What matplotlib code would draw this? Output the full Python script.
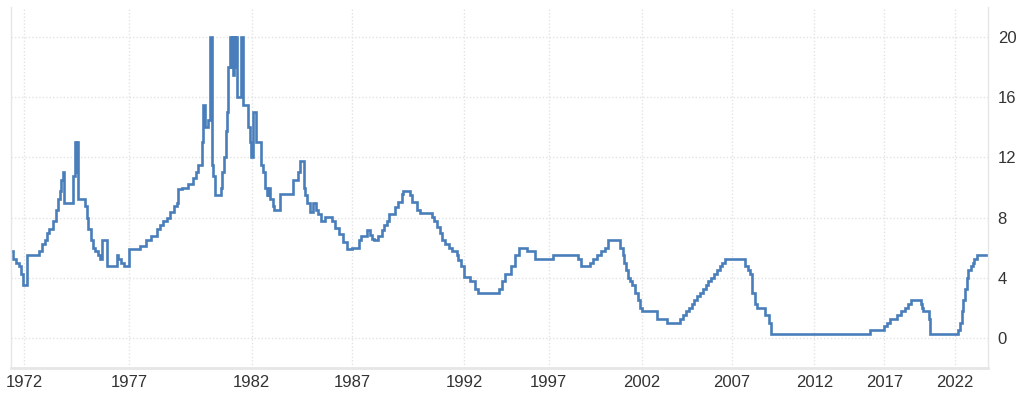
import numpy as np
import matplotlib
matplotlib.use('Agg')
import matplotlib.pyplot as plt

# rate changes: (decimal year, rate in %)
years = [
    1971.43, 1971.48, 1971.62, 1971.76, 1971.86, 1971.95, 1972.13, 1972.73, 1972.85, 1973.00,
    1973.09, 1973.20, 1973.39, 1973.52, 1973.63, 1973.71, 1973.76, 1973.87, 1973.91, 1974.31,
    1974.42, 1974.48, 1974.51, 1974.55, 1974.90, 1974.97, 1975.05, 1975.16, 1975.26, 1975.37,
    1975.51, 1975.61, 1975.69, 1975.93, 1976.40, 1976.48, 1976.61, 1976.75,
    1977.00, 1977.44, 1977.67, 1977.89, 1978.12, 1978.25, 1978.39, 1978.53, 1978.66, 1978.84,
    1978.94, 1979.00, 1979.14, 1979.41, 1979.61, 1979.71, 1979.79, 1979.97, 1980.01, 1980.09,
    1980.23, 1980.28, 1980.37, 1980.43, 1980.50, 1980.73, 1980.80, 1980.88, 1980.94, 1980.99,
    1981.04, 1981.11, 1981.17, 1981.20, 1981.25, 1981.29, 1981.33, 1981.36, 1981.39, 1981.56,
    1981.63, 1981.86, 1981.93, 1981.97,
    1982.08, 1982.21, 1982.45, 1982.58, 1982.66, 1982.74, 1982.79, 1982.83, 1982.87, 1982.92,
    1983.07, 1983.12, 1983.41, 1984.07, 1984.29, 1984.40, 1984.60, 1984.65, 1984.73, 1984.90,
    1985.06, 1985.18, 1985.31, 1985.44, 1985.64, 1985.98, 1986.14, 1986.34, 1986.55, 1986.72,
    1986.97,
    1987.30, 1987.39, 1987.67, 1987.79, 1987.89, 1987.98, 1988.16, 1988.31, 1988.43, 1988.54,
    1988.64, 1988.91, 1989.05, 1989.21, 1989.28, 1989.58, 1989.68, 1989.88, 1990.02, 1990.54,
    1990.66, 1990.77, 1990.92, 1990.99, 1991.14, 1991.29, 1991.44, 1991.66, 1991.73, 1991.85,
    1991.96,
    1992.34, 1992.63, 1992.83, 1994.07, 1994.25, 1994.41, 1994.77, 1995.00, 1995.24, 1995.70,
    1996.19,
    1997.25, 1998.59, 1998.74, 1999.22, 1999.38, 1999.60, 1999.81, 2000.03, 2000.17, 2000.83,
    2001.01, 2001.06, 2001.13, 2001.28, 2001.37, 2001.46, 2001.64, 2001.78, 2001.91,
    2002.00, 2002.83, 2003.39, 2004.13, 2004.29, 2004.44, 2004.60, 2004.76, 2004.91, 2005.07,
    2005.22, 2005.38, 2005.54, 2005.69, 2005.85, 2006.00, 2006.16, 2006.32, 2006.47, 2006.63,
    2007.81, 2007.97, 2008.11, 2008.20, 2008.25, 2008.41, 2008.51, 2009.02, 2009.22, 2009.38,
    2015.98, 2016.98, 2017.21, 2017.42, 2017.92, 2018.16, 2018.46, 2018.63, 2018.87, 2019.57,
    2019.65, 2019.72, 2020.18, 2020.23, 2022.23, 2022.35, 2022.47, 2022.54, 2022.71, 2022.83,
    2022.94, 2023.11, 2023.25, 2023.36, 2023.53, 2024.31,
]
rates = [
    5.75, 5.25, 5.0, 4.75, 4.25, 3.5, 5.5, 5.75, 6.25, 6.5,
    7.0, 7.25, 7.75, 8.5, 9.25, 9.75, 10.5, 11.0, 9.0, 10.75,
    13.0, 11.0, 13.0, 9.25, 8.75, 8.0, 7.25, 6.5, 6.0, 5.75,
    5.5, 5.25, 6.5, 4.75, 5.5, 5.25, 5.0, 4.75,
    5.875, 6.125, 6.5, 6.75, 7.25, 7.5, 7.75, 8.0, 8.4, 8.75,
    9.0, 9.875, 10.0, 10.25, 10.6, 11.0, 11.5, 13.0, 15.5, 14.0,
    14.5, 20.0, 11.5, 10.75, 9.5, 10.0, 11.0, 12.0, 13.75, 15.0,
    18.0, 20.0, 18.0, 20.0, 17.5, 20.0, 18.0, 20.0, 16.0, 20.0,
    15.5, 14.0, 13.0, 12.0,
    15.0, 13.0, 11.5, 11.0, 10.0, 9.5, 10.0, 9.5, 10.0, 9.25,
    8.75, 8.5, 9.6, 10.5, 11.0, 11.75, 10.0, 9.5, 9.0, 8.4,
    9.0, 8.5, 8.25, 7.8, 8.05, 7.75, 7.3, 6.9, 6.4, 5.9,
    6.0,
    6.5, 6.75, 7.2, 6.85, 6.6, 6.5, 6.75, 7.2, 7.5, 7.8,
    8.25, 8.7, 9.05, 9.6, 9.75, 9.5, 9.05, 8.5, 8.3, 8.05,
    7.75, 7.4, 6.95, 6.5, 6.25, 5.95, 5.75, 5.5, 5.2, 4.75,
    4.05,
    3.75, 3.25, 3.0, 3.25, 3.75, 4.25, 4.75, 5.5, 6.0, 5.75,
    5.25,
    5.5, 5.25, 4.75, 5.0, 5.25, 5.5, 5.75, 6.0, 6.5, 6.0,
    5.5, 5.0, 4.5, 4.0, 3.75, 3.5, 3.0, 2.5, 2.0,
    1.75, 1.25, 1.0, 1.25, 1.5, 1.75, 2.0, 2.25, 2.5, 2.75,
    3.0, 3.25, 3.5, 3.75, 4.0, 4.25, 4.5, 4.75, 5.0, 5.25,
    4.75, 4.5, 4.25, 3.5, 3.0, 2.25, 2.0, 1.5, 1.0, 0.25,
    0.5, 0.75, 1.0, 1.25, 1.5, 1.75, 2.0, 2.25, 2.5, 2.25,
    2.0, 1.75, 1.25, 0.25, 0.5, 1.0, 1.75, 2.5, 3.25, 4.0,
    4.5, 4.75, 5.0, 5.25, 5.5, 5.5,
]

year_ticks = [1972, 1977, 1982, 1987, 1992, 1997, 2002, 2007, 2012, 2017, 2022]
rate_ticks = [0, 4, 8, 12, 16, 20]

# the source chart spaces observations evenly, so years are not linear on the axis
axis_years = [1970] + year_ticks + [2026]
axis_units = [-18.1, 24, 129.3, 251.7, 352.3, 464.3, 548.7, 641.7, 731.7, 814.3, 884.3, 955, 1011.6]


def fwd(x):
    return np.interp(x, axis_years, axis_units)


def inv(u):
    return np.interp(u, axis_units, axis_years)


plt.rcParams['font.family'] = ['Liberation Sans', 'DejaVu Sans']

fig = plt.figure(figsize=(10.24, 3.95), dpi=100)
ax = fig.add_axes([11 / 1024, 27 / 395, 977 / 1024, 361 / 395])

ax.set_xscale('function', functions=(fwd, inv))
ax.step(years, rates, where='post', color='#4a7ebb', lw=1.9, solid_joinstyle='miter')

ax.set_xlim(1971.38, 2024.32)
ax.set_ylim(-2.03, 22.03)
ax.set_xticks(year_ticks)
ax.set_xticklabels([str(y) for y in year_ticks])
ax.set_yticks(rate_ticks)
ax.yaxis.tick_right()
ax.tick_params(axis='both', length=0, labelsize=12, colors='#333333')
ax.tick_params(axis='x', pad=5)
ax.tick_params(axis='y', pad=7)
ax.xaxis.set_minor_locator(matplotlib.ticker.NullLocator())

ax.grid(True, color='#e3e3e3', linestyle=(0, (1, 1.5)), lw=1)
ax.set_axisbelow(True)

for side in ['left', 'right']:
    ax.spines[side].set_color('#e6e6e6')
    ax.spines[side].set_linewidth(1)
ax.spines['bottom'].set_color('#e6e6e6')
ax.spines['bottom'].set_linewidth(2)
ax.spines['top'].set_visible(False)

fig.savefig('out.png', dpi=100)
